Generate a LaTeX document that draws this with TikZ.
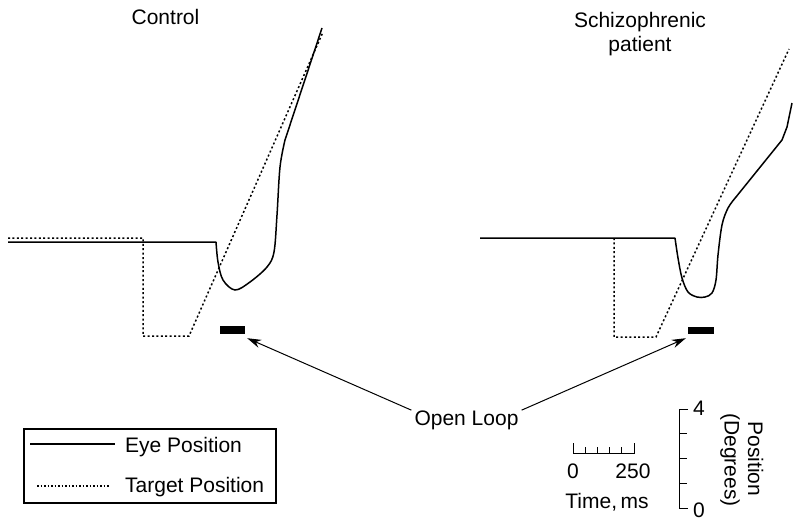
\documentclass[tikz,border=0pt]{standalone}
\usepackage{fontspec}
\setmainfont{Liberation Sans}
\usetikzlibrary{arrows.meta}
\begin{document}
\begin{tikzpicture}[x=1pt,y=-1pt,
    eye/.style={line width=1.5pt},
    target/.style={line width=1.5pt, dash pattern=on 2pt off 2.4pt},
    lbl/.style={font=\fontsize{21}{24}\selectfont, inner sep=0pt},
    loopbar/.style={fill=black, minimum width=25pt, minimum height=8pt, inner sep=0pt},
    loopline/.style={line width=1pt, -{Stealth[length=14pt,width=8.5pt]}}]
    \useasboundingbox (0,0) rectangle (800,525);

    % Titles
    \node[lbl, anchor=base] (control) at (165.5,24) {Control};
    \node[lbl, anchor=base] (schizo) at (640,27) {Schizophrenic};
    \node[lbl, anchor=base] (patient) at (640,51) {patient};

    % Control traces
    \draw[target] (8,238) -- (143,238) -- (143,336) -- (189,336) -- (323,32);
    \draw[eye] (8,242) -- (216,242)
        plot[smooth, tension=0.55] coordinates {(216,242) (218,262) (223,280) (235,290)
            (250,282) (267,267) (274,252) (277,215) (280,167) (285,140)}
        -- (322,28);

    % Patient traces
    \draw[target] (614,238) -- (614,337) -- (656,337) -- (789,49);
    \draw[eye] (480,238) -- (675,238)
        plot[smooth, tension=0.55] coordinates {(675,238) (678,258) (682,278) (688,292)
            (697,297) (705,297) (712,293) (716,280) (718,255) (722,225) (728,208) (736,197)}
        -- (782,140) -- (787,127) -- (792,103);

    % Open loop bars
    \node[loopbar] (barL) at (232.5,330) {};
    \node[loopbar, minimum width=26pt, minimum height=7pt] (barR) at (701,330.5) {};
    \node[lbl, anchor=base] (loop) at (466.5,425) {Open Loop};
    \draw[loopline] ([xshift=-3pt]loop.north west) -- ([shift={(2,4)}]barL.south east);
    \draw[loopline] ([xshift=3pt]loop.north east) -- ([shift={(-2,4)}]barR.south west);

    % Legend
    \draw[line width=1.8pt] (24,429) rectangle (276,503);
    \draw[eye] (30,444) -- (115,444);
    \draw[target, dash pattern=on 1.5pt off 2pt] (37,486) -- (110,486);
    \node[lbl, anchor=base west] (eyeLbl) at (125,452) {Eye Position};
    \node[lbl, anchor=base west] (targetLbl) at (125,492) {Target Position};

    % Time scale
    \draw[line width=1pt] (573,443) -- (573,453) -- (634,453) -- (634,443);
    \foreach \t in {585.2,597.4,609.6,621.8}
        \draw[line width=1pt] (\t,453) -- (\t,447);
    \node[lbl, anchor=base] (tZero) at (573,478) {0};
    \node[lbl, anchor=base] (tEnd) at (633,478) {250};
    \node[lbl, anchor=base] (tUnit) at (607,508) {Time,\,ms};

    % Position scale
    \draw[line width=1pt] (688,409) -- (679,409) -- (679,508) -- (688,508);
    \foreach \p in {433.75,458.5,483.25}
        \draw[line width=1pt] (679,\p) -- (687,\p);
    \node[lbl, anchor=base] (pTop) at (699,415) {4};
    \node[lbl, anchor=base] (pZero) at (699,517) {0};
    \node[lbl, rotate=-90] (pUnit) at (755.5,459) {Position};
    \node[lbl, rotate=-90] (pDeg) at (730,460) {(Degrees)};
\end{tikzpicture}
\end{document}
